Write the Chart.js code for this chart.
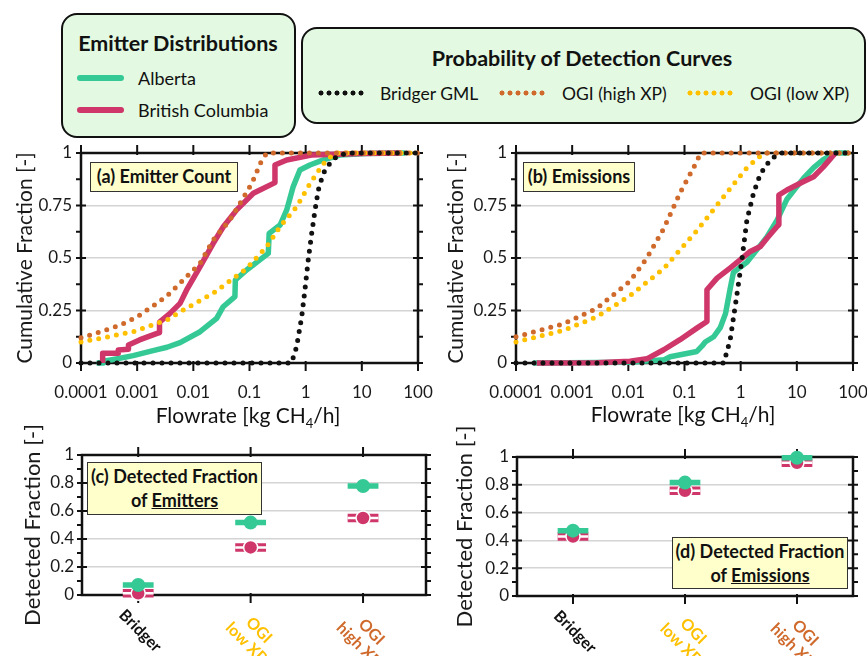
<!DOCTYPE html>
<html>
<head>
<meta charset="utf-8">
<script src="https://cdn.jsdelivr.net/npm/chart.js@4.4.1/dist/chart.umd.min.js"></script>
<style>
  body { margin: 0; width: 867px; height: 656px; position: relative; overflow: hidden; background: #fff; font-family: Lato, sans-serif; color: #111; }
  canvas { position: absolute; }
  .box { position: absolute; box-sizing: border-box; background: #e3f9e1; border: 2.5px solid #111; border-radius: 16px; }
  .t { position: absolute; white-space: nowrap; line-height: 1; transform: translateY(-50%); }
  .c { transform: translate(-50%, -50%); }
  .swatch { position: absolute; height: 6px; border-radius: 3px; }
  .dots { position: absolute; height: 8px; background-size: 8px 8px; background-repeat: repeat-x; }
  .tag { position: absolute; box-sizing: border-box; background: #ffffcc; border: 1.5px solid #333; font-weight: bold; font-size: 18px; text-align: center; z-index: 5; }
</style>
</head>
<body>

<!-- legends -->
<div class="box" style="left:61px;top:13px;width:235px;height:125px"></div>
<div class="t c" style="left:178px;top:44px;font-weight:bold;font-size:21.5px">Emitter Distributions</div>
<div class="swatch" style="left:77px;top:75px;width:47px;background:#35c995"></div>
<div class="t" style="left:138px;top:78px;font-size:18px">Alberta</div>
<div class="swatch" style="left:77px;top:107px;width:47px;background:#cf3669"></div>
<div class="t" style="left:138px;top:110px;font-size:18px">British Columbia</div>

<div class="box" style="left:301px;top:27px;width:565px;height:97px"></div>
<div class="t c" style="left:582px;top:59px;font-weight:bold;font-size:21.5px">Probability of Detection Curves</div>
<div class="dots" style="left:317px;top:89px;width:48px;background-image:radial-gradient(circle, #111 2.2px, transparent 2.8px)"></div>
<div class="t" style="left:380px;top:94px;font-size:17.5px">Bridger GML</div>
<div class="dots" style="left:498px;top:89px;width:48px;background-image:radial-gradient(circle, #cf6a2c 2.2px, transparent 2.8px)"></div>
<div class="t" style="left:562px;top:94px;font-size:17.5px">OGI (high XP)</div>
<div class="dots" style="left:686px;top:89px;width:48px;background-image:radial-gradient(circle, #ffc000 2.2px, transparent 2.8px)"></div>
<div class="t" style="left:750px;top:94px;font-size:17.5px">OGI (low XP)</div>

<canvas id="chartA" width="435" height="290" style="left:0;top:140px"></canvas>
<canvas id="chartB" width="432" height="290" style="left:435px;top:140px"></canvas>
<canvas id="chartC" width="435" height="246" style="left:0;top:410px"></canvas>
<canvas id="chartD" width="432" height="246" style="left:435px;top:410px"></canvas>

<div class="t c" style="left:248px;top:417px;font-size:21px">Flowrate [kg CH<sub style="font-size:13px">4</sub>/h]</div>
<div class="t c" style="left:683px;top:416px;font-size:21px">Flowrate [kg CH<sub style="font-size:13px">4</sub>/h]</div>

<div class="tag" style="left:90px;top:162px;width:148px;height:30px;line-height:27px">(a) Emitter Count</div>
<div class="tag" style="left:523px;top:162px;width:112px;height:30px;line-height:27px">(b) Emissions</div>
<div class="tag" style="left:87px;top:462px;width:175px;height:53px;line-height:24px;padding-top:1px">(c) Detected Fraction<br>of <u>Emitters</u></div>
<div class="tag" style="left:672px;top:537px;width:176px;height:52px;line-height:24px;padding-top:1px">(d) Detected Fraction<br>of <u>Emissions</u></div>

<script>
// axis ticks
const flowTicks = [1e-4, 1e-3, 1e-2, 0.1, 1, 10, 100];
const flowTickLabels = ['0.0001', '0.001', '0.01', '0.1', '1', '10', '100'];
const cdfTicks = [0, 0.25, 0.5, 0.75, 1];
const cdfTickLabels = ['0', '0.25', '0.5', '0.75', '1'];
const fracTicks = [0, 0.2, 0.4, 0.6, 0.8, 1];
const fracTickLabels = ['0', '0.2', '0.4', '0.6', '0.8', '1'];
const methods = [['Bridger'], ['OGI', 'low XP'], ['OGI', 'high XP']];
const methodColors = ['#111111', '#ffc000', '#cf6a2c'];

// (a) cumulative fraction of emitter count, [flowrate, fraction]
const countAlberta = [[0.00019, 0], [0.00025, 0], [0.00025, 0.008], [0.0004, 0.018], [0.00085, 0.035], [0.002, 0.06], [0.0034, 0.075], [0.0058, 0.097], [0.0132, 0.149], [0.026, 0.213], [0.034, 0.268], [0.055, 0.316], [0.056, 0.395], [0.089, 0.443], [0.216, 0.522], [0.224, 0.617], [0.35, 0.657], [0.46, 0.729], [0.6, 0.84], [0.79, 0.919], [1.19, 0.943], [2.06, 0.967], [4.07, 0.99], [12, 0.998], [59, 1]];
const countBC = [[0.000243, 0], [0.000243, 0.046], [0.00046, 0.046], [0.00046, 0.062], [0.0007, 0.066], [0.0007, 0.086], [0.0011, 0.11], [0.0022, 0.14], [0.0025, 0.145], [0.0025, 0.195], [0.0038, 0.235], [0.0058, 0.284], [0.0076, 0.348], [0.0132, 0.459], [0.0226, 0.57], [0.0342, 0.649], [0.0592, 0.729], [0.117, 0.808], [0.284, 0.859], [0.284, 0.943], [0.459, 0.967], [1.26, 0.99], [10, 0.998], [51, 1]];
const countBridger = [[1e-4, 0], [0.56, 0], [0.69, 0.078], [0.85, 0.22], [0.97, 0.348], [1.11, 0.49], [1.28, 0.617], [1.47, 0.729], [1.68, 0.824], [2.06, 0.903], [2.71, 0.951], [3.56, 0.983], [5.4, 1], [100, 1]];
const countOgiHigh = [[1e-4, 0.12], [2e-4, 0.145], [5e-4, 0.18], [1e-3, 0.22], [2e-3, 0.275], [3.4e-3, 0.32], [5.8e-3, 0.38], [0.0132, 0.475], [0.0226, 0.586], [0.0447, 0.681], [0.0676, 0.76], [0.11, 0.856], [0.166, 0.967], [0.204, 1], [100, 1]];
const countOgiLow = [[1e-4, 0.1], [2e-4, 0.115], [8.5e-4, 0.149], [3.4e-3, 0.205], [5.8e-3, 0.244], [0.0226, 0.332], [0.089, 0.45], [0.202, 0.554], [0.349, 0.649], [0.69, 0.744], [1.11, 0.84], [1.57, 0.903], [2.34, 0.967], [3.5, 1], [100, 1]];

// (b) cumulative fraction of emissions
const emisAlberta = [[0.000204, 0], [0.0107, 0.003], [0.0427, 0.015], [0.0556, 0.03], [0.166, 0.055], [0.204, 0.08], [0.234, 0.1], [0.331, 0.125], [0.436, 0.17], [0.537, 0.235], [0.646, 0.35], [0.741, 0.43], [0.912, 0.45], [1.29, 0.48], [1.95, 0.54], [2.94, 0.6], [4.45, 0.68], [6.67, 0.78], [10, 0.84], [13.2, 0.88], [19.9, 0.93], [30, 0.97], [48.6, 1], [85, 1]];
const emisBC = [[0.000234, 0], [0.00275, 0.001], [0.0107, 0.008], [0.0214, 0.02], [0.0427, 0.063], [0.0832, 0.111], [0.166, 0.166], [0.251, 0.198], [0.251, 0.349], [0.38, 0.404], [0.646, 0.452], [0.977, 0.491], [1.48, 0.531], [2.24, 0.555], [2.94, 0.594], [4.45, 0.65], [4.79, 0.658], [4.79, 0.8], [6.67, 0.824], [13.2, 0.864], [19.9, 0.887], [30, 0.935], [48.6, 1]];
const emisBridger = [[1e-4, 0], [0.5, 0], [0.65, 0.11], [0.83, 0.3], [1.05, 0.49], [1.29, 0.68], [1.7, 0.81], [2.24, 0.9], [3.4, 0.97], [5.1, 1], [100, 1]];
const emisOgiHigh = [[1e-4, 0.125], [6.9e-4, 0.186], [2.75e-3, 0.26], [0.0107, 0.39], [0.0214, 0.5], [0.0427, 0.64], [0.0832, 0.81], [0.145, 0.93], [0.195, 1], [100, 1]];
const emisOgiLow = [[1e-4, 0.1], [6.9e-4, 0.155], [2.75e-3, 0.22], [0.0107, 0.32], [0.0427, 0.45], [0.166, 0.63], [0.646, 0.83], [1.29, 0.93], [2.57, 1], [100, 1]];

// (c) and (d) detected fractions per method (Bridger, OGI low XP, OGI high XP)
const detEmittersAB = [0.071, 0.517, 0.779];
const detEmittersBC = [0.012, 0.34, 0.55];
const detEmissionsAB = [0.47, 0.816, 0.995];
const detEmissionsBC = [0.428, 0.757, 0.958];

const GREEN = '#35c995', RED = '#cf3669', BLACK = '#111111', ORANGE = '#cf6a2c', YELLOW = '#ffc000';
const FONT = 'Lato';

Chart.defaults.font.family = FONT;
Chart.defaults.color = '#1a1a1a';

// frame around plot area with crossing ticks on all four sides
const framePlugin = {
    id: 'frame',
    beforeDatasetsDraw(chart) {
        const { ctx, chartArea: a, scales: { x, y } } = chart;
        ctx.save();
        ctx.strokeStyle = '#111';
        ctx.lineWidth = 2;
        ctx.beginPath();
        y.ticks.forEach((t, i) => {
            const py = y.getPixelForValue(t.value);
            ctx.moveTo(a.left - 5, py); ctx.lineTo(a.left + 5, py);
            ctx.moveTo(a.right - 5, py); ctx.lineTo(a.right + 5, py);
            if (i > 0) {
                const pm = (py + y.getPixelForValue(y.ticks[i - 1].value)) / 2;
                ctx.moveTo(a.left - 5, pm); ctx.lineTo(a.left, pm);
                ctx.moveTo(a.right, pm); ctx.lineTo(a.right + 5, pm);
            }
        });
        x.ticks.forEach(t => {
            const px = x.getPixelForValue(t.value);
            ctx.moveTo(px, a.top - 8); ctx.lineTo(px, a.top + 2);
            ctx.moveTo(px, a.bottom - 2); ctx.lineTo(px, a.bottom + 8);
        });
        ctx.stroke();
        ctx.lineWidth = 2.5;
        ctx.strokeRect(a.left, a.top, a.width, a.height);
        ctx.restore();
    }
};

// rotated, coloured method names under panels (c) and (d)
const methodLabelPlugin = {
    id: 'methodLabels',
    afterDraw(chart) {
        const { ctx, chartArea: a, scales: { x } } = chart;
        const lh = 18;
        ctx.save();
        ctx.font = 'bold 16px ' + FONT;
        ctx.textAlign = 'center';
        ctx.textBaseline = 'middle';
        methods.forEach((lines, i) => {
            const w = Math.max(...lines.map(s => ctx.measureText(s).width));
            const h = lines.length * lh;
            const side = (w + h) * Math.SQRT1_2;
            const cx = x.getPixelForValue(i) + 2;
            const cy = a.bottom + 11 + side / 2;
            ctx.save();
            ctx.translate(cx, cy);
            ctx.rotate(Math.PI / 4);
            ctx.fillStyle = methodColors[i];
            lines.forEach((s, k) => ctx.fillText(s, 0, (k - (lines.length - 1) / 2) * lh));
            ctx.restore();
        });
        ctx.restore();
    }
};

function pts(pairs) {
    return pairs.map(p => ({ x: p[0], y: p[1] }));
}

function dotted(pairs, color) {
    return {
        data: pts(pairs), borderColor: color, borderWidth: 5, borderDash: [0, 9],
        borderCapStyle: 'round', pointRadius: 0, tension: 0, clip: false
    };
}

function solid(pairs, color) {
    return {
        data: pts(pairs), borderColor: color, borderWidth: 5.5, borderJoinStyle: 'round',
        pointRadius: 0, tension: 0, clip: false
    };
}

// keep tick labels from pushing the plot area inward
function fixX(h) {
    return s => { s.height = h; s.paddingLeft = 0; s.paddingRight = 0; };
}
function fixY(w) {
    return s => { s.width = w; s.paddingTop = 0; s.paddingBottom = 0; };
}

function cdfChart(id, curves, titlePad) {
    return new Chart(document.getElementById(id), {
        type: 'line',
        data: {
            datasets: [
                dotted(curves.bridger, BLACK),
                dotted(curves.high, ORANGE),
                dotted(curves.low, YELLOW),
                solid(curves.bc, RED),
                solid(curves.ab, GREEN)
            ]
        },
        options: {
            responsive: false,
            animation: false,
            events: [],
            layout: { padding: { top: 13, right: curves.right, left: 0, bottom: 0 } },
            plugins: { legend: { display: false }, tooltip: { enabled: false } },
            scales: {
                x: {
                    type: 'logarithmic', min: 1e-4, max: 100,
                    afterBuildTicks: s => { s.ticks = flowTicks.map(v => ({ value: v })); },
                    afterFit: fixX(67),
                    ticks: {
                        callback: (v, i) => flowTickLabels[i], autoSkip: false, maxRotation: 0,
                        font: { size: 17 }, padding: 19
                    },
                    grid: { display: false, drawTicks: false },
                    border: { display: false }
                },
                y: {
                    min: 0, max: 1,
                    afterBuildTicks: s => { s.ticks = cdfTicks.map(v => ({ value: v })); },
                    afterFit: fixY(81),
                    ticks: { callback: (v, i) => cdfTickLabels[i], font: { size: 17 }, padding: 9 },
                    grid: { color: '#d4d4d4', lineWidth: 1.5, drawTicks: false },
                    border: { display: false },
                    title: { display: true, text: 'Cumulative Fraction [-]', font: { size: 21 }, padding: { top: titlePad, bottom: 0 } }
                }
            }
        },
        plugins: [framePlugin]
    });
}

function segments(values, half) {
    const out = [];
    values.forEach((v, i) => {
        out.push({ x: i - half, y: v }, { x: i + half, y: v }, { x: i, y: null });
    });
    return out;
}

function fracChart(id, ab, bc, box) {
    const half = 0.137;
    return new Chart(document.getElementById(id), {
        type: 'line',
        data: {
            datasets: [
                { data: ab.map((v, i) => ({ x: i, y: v })), showLine: false, pointRadius: 7, pointBackgroundColor: GREEN, pointBorderWidth: 0, clip: false },
                { data: segments(ab, half), borderColor: GREEN, borderWidth: 5.5, borderCapStyle: 'butt', pointRadius: 0, spanGaps: false, clip: false },
                { data: bc.map((v, i) => ({ x: i, y: v })), showLine: false, pointRadius: 7, pointBackgroundColor: RED, pointBorderColor: '#fff', pointBorderWidth: 1.5, clip: false },
                { data: segments(bc, half), borderColor: '#fff', borderWidth: 2.5, borderCapStyle: 'butt', pointRadius: 0, spanGaps: false, clip: false },
                { data: segments(bc, half), borderColor: RED, borderWidth: 8.5, borderCapStyle: 'butt', pointRadius: 0, spanGaps: false, clip: false }
            ]
        },
        options: {
            responsive: false,
            animation: false,
            events: [],
            layout: { padding: { top: box.top, right: box.right, left: 0, bottom: 0 } },
            plugins: { legend: { display: false }, tooltip: { enabled: false } },
            scales: {
                x: {
                    type: 'linear', min: -0.5, max: box.xmax,
                    afterBuildTicks: s => { s.ticks = methods.map((m, i) => ({ value: i })); },
                    afterFit: fixX(box.bottom),
                    ticks: { display: false },
                    grid: { display: false, drawTicks: false },
                    border: { display: false }
                },
                y: {
                    min: 0, max: 1,
                    afterBuildTicks: s => { s.ticks = fracTicks.map(v => ({ value: v })); },
                    afterFit: fixY(82),
                    ticks: { callback: (v, i) => fracTickLabels[i], font: { size: 17 }, padding: 8 },
                    grid: { color: '#d4d4d4', lineWidth: 1.5, drawTicks: false },
                    border: { display: false },
                    title: { display: true, text: 'Detected Fraction [-]', font: { size: 22 }, padding: { top: box.titlePad, bottom: 0 } }
                }
            }
        },
        plugins: [framePlugin, methodLabelPlugin]
    });
}

cdfChart('chartA', { ab: countAlberta, bc: countBC, bridger: countBridger, high: countOgiHigh, low: countOgiLow, right: 17 }, 13);
cdfChart('chartB', { ab: emisAlberta, bc: emisBC, bridger: emisBridger, high: emisOgiHigh, low: emisOgiLow, right: 14 }, 9);
fracChart('chartC', detEmittersAB, detEmittersBC, { top: 45, right: 9, bottom: 61, xmax: 2.56, titlePad: 20 });
fracChart('chartD', detEmissionsAB, detEmissionsBC, { top: 47, right: 14, bottom: 60, xmax: 2.5, titlePad: 17 });
</script>
</body>
</html>
